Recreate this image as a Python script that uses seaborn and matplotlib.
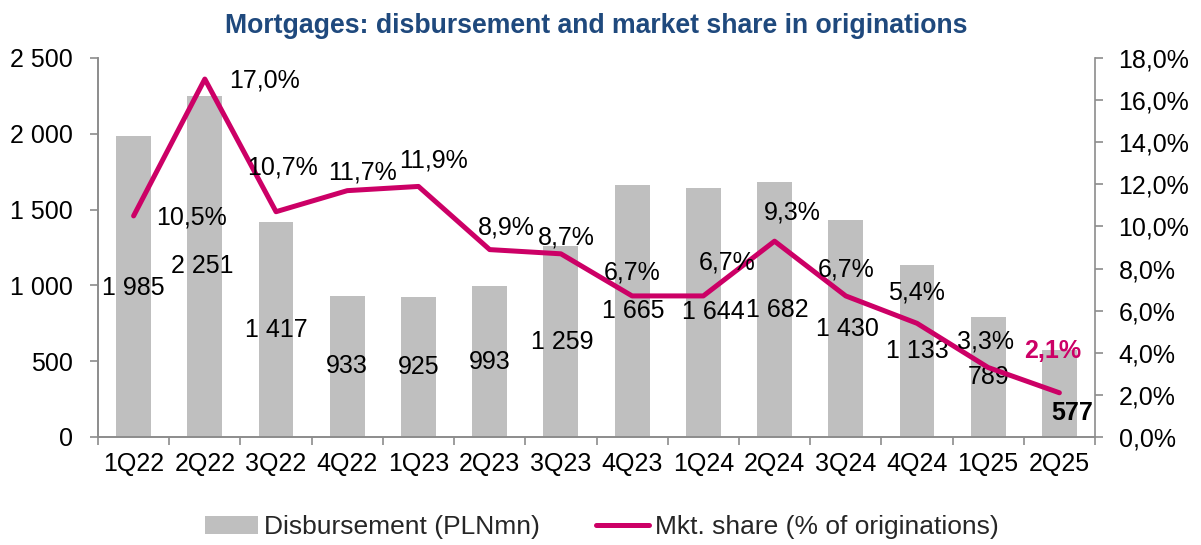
import numpy as np
import pandas as pd
import seaborn as sns
import matplotlib.pyplot as plt
from matplotlib.ticker import FuncFormatter, NullFormatter

# %%
quarters = ["1Q22", "2Q22", "3Q22", "4Q22", "1Q23", "2Q23", "3Q23",
            "4Q23", "1Q24", "2Q24", "3Q24", "4Q24", "1Q25", "2Q25"]
disbursement = [1985, 2251, 1417, 933, 925, 993, 1259,
                1665, 1644, 1682, 1430, 1133, 789, 577]
mkt_share = [10.5, 17.0, 10.7, 11.7, 11.9, 8.9, 8.7,
             6.7, 6.7, 9.3, 6.7, 5.4, 3.3, 2.1]

title = "Mortgages: disbursement and market share in originations"
bar_name = "Disbursement (PLNmn)"
line_name = "Mkt. share (% of originations)"

# label nudges in points (dx, dy), picked by eye from the original
bar_nudge = [(0, -1), (-1.5, 0), (0.5, 0), (0, 0), (0, 0), (0, 0), (1, 0),
             (0.5, 0), (7, 0), (2, 0), (1.5, 0), (0, 0), (0, 0), (9.5, -14)]
share_nudge = [(42, -1), (43, -1), (5, 32), (11, 13), (11, 19), (12, 16), (4, 12),
               (0, 17), (17, 24), (13, 21), (0, 19), (0, 22), (-2, 19), (-5, 30)]

MAGENTA = "#CC0066"
GREY = "#BFBFBF"
AXIS = "#8C8C8C"
FS = 18

# %%
df = pd.DataFrame({"quarter": quarters, "disbursement": disbursement, "share": mkt_share})

sns.set_theme(style="white")
plt.rcParams["font.family"] = ["Liberation Sans", "DejaVu Sans"]

W, H = 1201, 545
fig = plt.figure(figsize=(W / 100, H / 100), dpi=100)
ax = fig.add_axes([98 / W, 1 - 437 / H, (1095 - 98) / W, (437 - 58) / H])

sns.barplot(data=df, x="quarter", y="disbursement", color=GREY, saturation=1,
            width=0.49, linewidth=0, ax=ax)

ax2 = ax.twinx()
sns.lineplot(data=df, x="quarter", y="share", color=MAGENTA, linewidth=3.6,
             sort=False, ax=ax2)

# %%
ax.set_ylim(0, 2500)
ax2.set_ylim(0, 18)
ax.set_xlim(-0.5, len(quarters) - 0.5)
ax.set_yticks(np.arange(0, 2501, 500))
ax2.set_yticks(np.arange(0, 18.1, 2))
ax.yaxis.set_major_formatter(FuncFormatter(lambda v, p: f"{v:,.0f}".replace(",", " ")))
ax2.yaxis.set_major_formatter(FuncFormatter(lambda v, p: f"{v:.1f}%".replace(".", ",")))

# category labels in the middle, tick marks on the borders
ax.set_xticks(np.arange(len(quarters) + 1) - 0.5)
ax.xaxis.set_major_formatter(NullFormatter())
ax.set_xticks(np.arange(len(quarters)), quarters, minor=True)

for a in (ax, ax2):
    a.set_xlabel("")
    a.set_ylabel("")
    a.spines["top"].set_visible(False)
    for s in ("left", "right", "bottom"):
        a.spines[s].set_color(AXIS)
        a.spines[s].set_linewidth(1.2)
ax.spines["right"].set_visible(False)

ax.tick_params(axis="x", which="major", length=6, width=1.2, color=AXIS, direction="out", bottom=True)
ax.tick_params(axis="x", which="minor", length=0, pad=11, labelsize=FS, labelcolor="black", bottom=True)
ax.tick_params(axis="y", length=6, width=1.2, color=AXIS, direction="out", pad=12,
               labelsize=FS, labelcolor="black", left=True)
ax2.tick_params(axis="y", length=6, width=1.2, color=AXIS, direction="out", pad=11,
                labelsize=FS, labelcolor="black", right=True)

# %%
# data labels
bar_texts = [f"{v:,}".replace(",", " ") for v in disbursement]
anns = ax.bar_label(ax.containers[0], labels=bar_texts, label_type="center",
                    fontsize=FS, color="black")
for a, (dx, dy) in zip(anns, bar_nudge):
    a.xyann = (dx, dy)
    a.set_ha("center")
    a.set_va("center")
anns[-1].set_fontweight("bold")

for i, (v, (dx, dy)) in enumerate(zip(mkt_share, share_nudge)):
    last = i == len(mkt_share) - 1
    ax2.annotate(f"{v:.1f}%".replace(".", ","), xy=(i, v), xytext=(dx, dy),
                 textcoords="offset points", ha="center", va="center", fontsize=FS,
                 color=MAGENTA if last else "black",
                 fontweight="bold" if last else "normal")

# %%
fig.text((98 + 1095) / 2 / W, 1 - 33 / H, title, ha="center", va="baseline",
         fontsize=19.2, fontweight="bold", color="#1F497D")

handles = [ax.containers[0].patches[0], ax2.lines[0]]
fig.legend(handles, [bar_name, line_name], loc="center", bbox_to_anchor=(602 / W, 1 - 527 / H),
           ncol=2, frameon=False, fontsize=19, handlelength=2.0, handletextpad=0.25,
           columnspacing=2.1)

fig.savefig("out.png", dpi=100)
